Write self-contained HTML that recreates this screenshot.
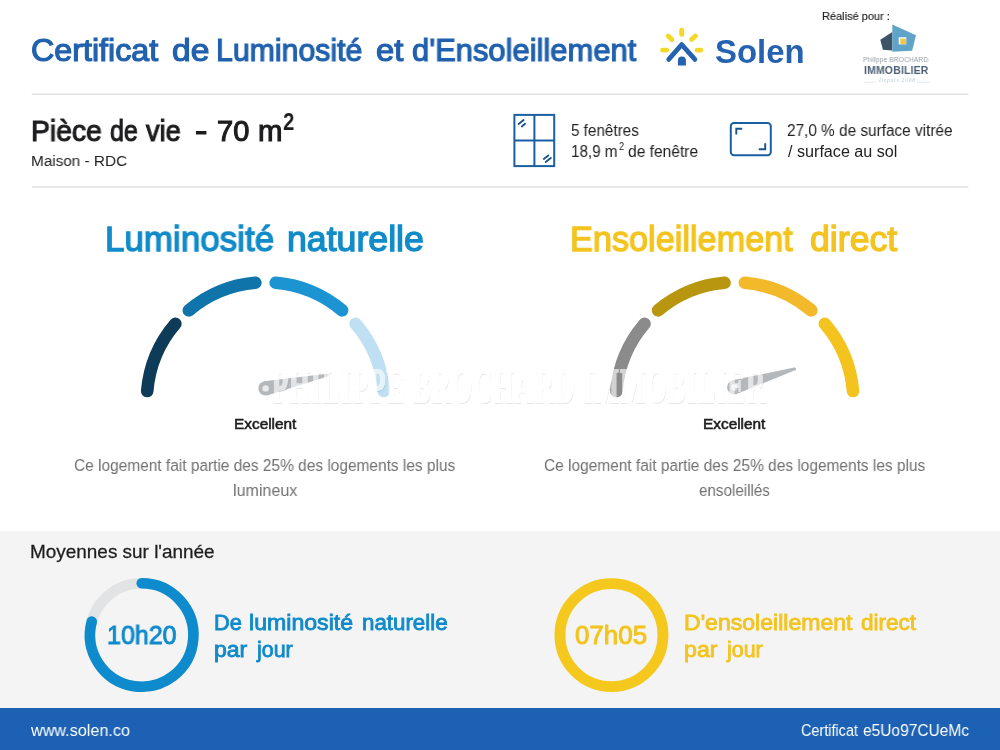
<!DOCTYPE html>
<html lang="fr"><head><meta charset="utf-8"><title>Certificat de Luminosité et d'Ensoleillement</title>
<style>
html,body{margin:0;padding:0;background:#fff;}
body{font-family:"Liberation Sans",sans-serif;}
#page{position:relative;width:1000px;height:750px;overflow:hidden;background:#fff;}
.t{position:absolute;white-space:nowrap;line-height:1;transform-origin:0 50%;will-change:transform;}
.abs{position:absolute;}
.hr{position:absolute;left:31.5px;width:937px;height:1.4px;background:#e3e3e3;}
svg{position:absolute;left:0;top:0;overflow:visible;}

</style></head>
<body>
<div id="page">
<div class="abs" style="left:0;top:531px;width:1000px;height:177px;background:#f4f4f4"></div>
<div class="abs" style="left:0;top:708px;width:1000px;height:42px;background:#1c61b4"></div>
<svg width="1000" height="750" viewBox="0 0 1000 750">
<rect x="31.8" y="93.5" width="936.6" height="1.5" fill="#e1e1e1"/>
<rect x="31.8" y="186.2" width="936.6" height="1.6" fill="#e2e2e2"/>
<!-- gauges -->
<path d="M147.22 391.07A118.7 118.7 0 0 1 175.37 323.75" fill="none" stroke="#0e3b58" stroke-width="12.6" stroke-linecap="round"/>
<path d="M188.88 310.34A118.7 118.7 0 0 1 255.36 282.73" fill="none" stroke="#0f74aa" stroke-width="12.6" stroke-linecap="round"/>
<path d="M275.64 282.73A118.7 118.7 0 0 1 342.12 310.34" fill="none" stroke="#1c94d2" stroke-width="12.6" stroke-linecap="round"/>
<path d="M355.63 323.75A118.7 118.7 0 0 1 383.78 391.07" fill="none" stroke="#bfe0f2" stroke-width="12.6" stroke-linecap="round"/>
<path d="M616.42 391.07A118.7 118.7 0 0 1 644.57 323.75" fill="none" stroke="#8b8b8b" stroke-width="12.6" stroke-linecap="round"/>
<path d="M658.08 310.34A118.7 118.7 0 0 1 724.56 282.73" fill="none" stroke="#b8960f" stroke-width="12.6" stroke-linecap="round"/>
<path d="M744.84 282.73A118.7 118.7 0 0 1 811.32 310.34" fill="none" stroke="#f2b92a" stroke-width="12.6" stroke-linecap="round"/>
<path d="M824.83 323.75A118.7 118.7 0 0 1 852.98 391.07" fill="none" stroke="#f3c41f" stroke-width="12.6" stroke-linecap="round"/>
<!-- needles -->
<polygon points="267.12,395.44 327.52,376.57 326.88,373.63 264.08,381.36" fill="#b5b8bb"/><circle cx="265.6" cy="388.4" r="7.2" fill="#b5b8bb"/><circle cx="327.2" cy="375.1" r="1.5" fill="#b5b8bb"/><circle cx="265.6" cy="388.4" r="3.2" fill="#e9eaeb"/>
<polygon points="736.39,394.09 795.04,370.34 794.16,367.46 732.21,380.31" fill="#b5b8bb"/><circle cx="734.3" cy="387.2" r="7.2" fill="#b5b8bb"/><circle cx="794.6" cy="368.9" r="1.5" fill="#b5b8bb"/><circle cx="734.3" cy="387.2" r="3.2" fill="#e9eaeb"/>
<!-- rings -->
<circle cx="141.7" cy="635.0" r="51.7" fill="none" stroke="#e2e3e5" stroke-width="10.6"/>
<path d="M141.70 583.30A51.7 51.7 0 1 1 91.76 621.62" fill="none" stroke="#0d8bcc" stroke-width="10.6" stroke-linecap="round"/>
<circle cx="611.45" cy="635.1" r="51.5" fill="none" stroke="#f4c81c" stroke-width="10.9"/>
<!-- Solen logo icon -->
<g fill="none" stroke-linecap="round" stroke-linejoin="round">
  <g stroke="#f5d726" stroke-width="4.9">
    <path d="M681.7 30.3V34.4"/>
    <path d="M668.2 36L671.8 39.6"/>
    <path d="M695.4 36L691.6 39.4"/>
    <path d="M662.6 50.1H666.7"/>
    <path d="M697.1 50.1H700.8"/>
  </g>
  <path d="M668.7 59.4L681.7 44.6L694.9 59.4" stroke="#2563b0" stroke-width="4.7"/>
</g>
<path d="M677.9 65.4V60.6A4 4 0 0 1 685.9 60.6V65.4Z" fill="#2563b0"/>
<!-- window icon -->
<g fill="none" stroke="#1b5fa3" stroke-width="2">
  <rect x="514.4" y="114.9" width="39.8" height="51.2"/>
  <path d="M534.4 114.9V166.1M514.4 140.6H554.2"/>
  <path d="M518.6 124L523.6 120M521.9 126.4L525 123.8M543.8 158.9L548.3 155.5M545.7 162L550.8 157.9" stroke="#1a538f" stroke-width="1.9" stroke-linecap="round"/>
</g>
<!-- surface icon -->
<g fill="none" stroke="#1b5fa3" stroke-width="2">
  <rect x="730.8" y="123" width="40" height="32.2" rx="3.2" ry="3.2"/>
  <path d="M736.3 134.6V128.7H742.2M765.2 143.2V149.3H758.8" stroke="#1a538f" stroke-width="1.9"/>
</g>
<!-- Brochard logo -->
<polygon points="892.3,32.1 880.3,39.7 882.9,49.7 892.3,50.4" fill="#3e5368"/>
<polygon points="892.3,24.4 916,35.3 912.1,50.7 892.3,51.8" fill="#5fa3c9"/>
<rect x="898.7" y="37.2" width="7.6" height="7.2" fill="#f4f7f5"/>
<rect x="900.3" y="38.7" width="5.8" height="5.4" fill="#f2c744"/>
<path d="M864 82.2H876M917 82.2H930" stroke="#d5e0e6" stroke-width="0.7"/>
</svg>
<span class="t" style="left:282.5px;top:110px;font-size:24px;font-weight:700;color:#1d1d1f;transform:scaleX(0.85)">2</span>
<span class="t" style="left:618.7px;top:141px;font-size:11.5px;font-weight:400;color:#222;transform:scaleX(0.8)">2</span>
<span class="t" id="bro1" style="left:863.2px;top:55.7px;font-size:7.2px;font-weight:400;color:#9aa0a8;transform:scaleX(0.95)">Philippe BROCHARD</span>
<span class="t" id="bro2" style="left:863.8px;top:64.6px;font-size:10.8px;font-weight:700;color:#4c6075;transform:scaleX(0.965);letter-spacing:0.2px">IMMOBILIER</span>
<span class="t" id="bro3" style="left:878.5px;top:78.2px;font-size:5.5px;font-style:italic;font-family:'Liberation Serif',serif;color:#b5cad5;letter-spacing:0.8px">Depuis 2008</span>
<div class="t" id="wm" style="left:272px;top:361.8px;font-family:'Liberation Serif',serif;font-size:48px;font-weight:700;color:#fff;-webkit-text-stroke:2.2px #fff;letter-spacing:1.9px;opacity:.62;text-shadow:1.5px 1.5px 0.5px rgba(0,0,0,.16);transform:scaleX(0.55)">PHILIPPE BROCHARD IMMOBILIER</div>

<span class="t" id="maison" style="left:31.07px;top:153.00px;font-size:15.5px;font-weight:400;color:#222;transform:scaleX(0.9864)">Maison - RDC</span>
<span class="t" id="fen1" style="left:570.89px;top:123.00px;font-size:16px;font-weight:400;color:#222;transform:scaleX(0.9520)">5 fenêtres</span>
<span class="t" id="fen2a" style="left:571.41px;top:144.00px;font-size:16px;font-weight:400;color:#222;transform:scaleX(0.9505)">18,9 m</span>
<span class="t" id="fen2b" style="left:628.47px;top:144.00px;font-size:16px;font-weight:400;color:#222;transform:scaleX(0.9724)">de fenêtre</span>
<span class="t" id="surf1" style="left:787.28px;top:123.00px;font-size:16px;font-weight:400;color:#222;transform:scaleX(0.9591)">27,0 % de surface vitrée</span>
<span class="t" id="surf2" style="left:788.00px;top:144.00px;font-size:16px;font-weight:400;color:#222;transform:scaleX(1.0084)">/ surface au sol</span>
<span class="t" id="exl" style="left:233.92px;top:416.00px;font-size:15.01px;font-weight:400;-webkit-text-stroke:0.57px #1d1d1f;color:#1d1d1f;transform:scaleX(1.0250)">Excellent</span>
<span class="t" id="exr" style="left:702.83px;top:416.00px;font-size:15.01px;font-weight:400;-webkit-text-stroke:0.57px #1d1d1f;color:#1d1d1f;transform:scaleX(1.0250)">Excellent</span>
<span class="t" id="pl1" style="left:74.31px;top:458.00px;font-size:16.7px;font-weight:400;color:#707070;transform:scaleX(0.9257)">Ce logement fait partie des 25% des logements les plus</span>
<span class="t" id="pl2" style="left:232.84px;top:483.00px;font-size:16.7px;font-weight:400;color:#707070;transform:scaleX(0.9618)">lumineux</span>
<span class="t" id="pr1" style="left:543.71px;top:458.00px;font-size:16.7px;font-weight:400;color:#707070;transform:scaleX(0.9257)">Ce logement fait partie des 25% des logements les plus</span>
<span class="t" id="pr2" style="left:699.12px;top:483.00px;font-size:16.7px;font-weight:400;color:#707070;transform:scaleX(0.9098)">ensoleillés</span>
<span class="t" id="moy" style="left:30.37px;top:543.00px;font-size:18.5px;font-weight:400;-webkit-text-stroke:0.26px #1d1d1f;color:#1d1d1f;transform:scaleX(1.0233)">Moyennes sur l'année</span>
<span class="t" id="h1" style="left:106.63px;top:623.00px;font-size:25.46px;font-weight:400;-webkit-text-stroke:0.97px #0f8aca;color:#0f8aca;transform:scaleX(0.9833)">10h20</span>
<span class="t" id="h2" style="left:575.49px;top:623.00px;font-size:25.46px;font-weight:400;-webkit-text-stroke:0.97px #f3c41f;color:#f3c41f;transform:scaleX(1.0179)">07h05</span>
<span class="t" id="www" style="left:31.20px;top:722.00px;font-size:16.5px;font-weight:400;color:#ffffff;transform:scaleX(0.9815)">www.solen.co</span>
<span class="t" id="real" style="left:822.38px;top:11.00px;font-size:11.5px;font-weight:400;-webkit-text-stroke:0.16px #1d1d1f;color:#1d1d1f;transform:scaleX(0.9560)">Réalisé pour :</span>
<span class="t" id="solen" style="left:715.00px;top:36.00px;font-size:32.9px;font-weight:700;color:#2563b0;transform:scaleX(0.9988)">Solen</span>
<span class="t" id="title0" style="left:31.28px;top:35.00px;font-size:31.73px;font-weight:400;-webkit-text-stroke:1.21px #2161ae;color:#2161ae;transform:scaleX(1.0161)">Certificat</span>
<span class="t" id="title1" style="left:172.10px;top:35.00px;font-size:31.73px;font-weight:400;-webkit-text-stroke:1.21px #2161ae;color:#2161ae;transform:scaleX(1.0607)">de</span>
<span class="t" id="title2" style="left:216.39px;top:35.00px;font-size:31.73px;font-weight:400;-webkit-text-stroke:1.21px #2161ae;color:#2161ae;transform:scaleX(0.9535)">Luminosité</span>
<span class="t" id="title3" style="left:376.03px;top:35.00px;font-size:31.73px;font-weight:400;-webkit-text-stroke:1.21px #2161ae;color:#2161ae;transform:scaleX(1.0308)">et</span>
<span class="t" id="title4" style="left:412.27px;top:35.00px;font-size:31.73px;font-weight:400;-webkit-text-stroke:1.21px #2161ae;color:#2161ae;transform:scaleX(0.9750)">d'Ensoleillement</span>
<span class="t" id="piece0" style="left:30.99px;top:117.00px;font-size:28.97px;font-weight:400;-webkit-text-stroke:1.10px #1d1d1f;color:#1d1d1f;transform:scaleX(0.9786)">Pièce</span>
<span class="t" id="piece1" style="left:109.75px;top:117.00px;font-size:28.97px;font-weight:400;-webkit-text-stroke:1.10px #1d1d1f;color:#1d1d1f;transform:scaleX(0.8650)">de</span>
<span class="t" id="piece2" style="left:146.47px;top:117.00px;font-size:28.97px;font-weight:400;-webkit-text-stroke:1.10px #1d1d1f;color:#1d1d1f;transform:scaleX(0.9361)">vie</span>
<span class="t" id="piece3" style="left:195.44px;top:117.00px;font-size:28.97px;font-weight:400;-webkit-text-stroke:1.10px #1d1d1f;color:#1d1d1f;transform:scaleX(1.2848)">-</span>
<span class="t" id="piece4" style="left:217.20px;top:117.00px;font-size:28.97px;font-weight:400;-webkit-text-stroke:1.10px #1d1d1f;color:#1d1d1f;transform:scaleX(1.0016)">70</span>
<span class="t" id="piece5" style="left:257.63px;top:117.00px;font-size:28.97px;font-weight:400;-webkit-text-stroke:1.10px #1d1d1f;color:#1d1d1f;transform:scaleX(1.0140)">m</span>
<span class="t" id="hl0" style="left:105.16px;top:221.00px;font-size:35.15px;font-weight:400;-webkit-text-stroke:1.34px #128bc9;color:#128bc9;transform:scaleX(0.9949)">Luminosité</span>
<span class="t" id="hl1" style="left:287.28px;top:221.00px;font-size:35.15px;font-weight:400;-webkit-text-stroke:1.34px #128bc9;color:#128bc9;transform:scaleX(1.0151)">naturelle</span>
<span class="t" id="hr0" style="left:570.31px;top:221.00px;font-size:35.15px;font-weight:400;-webkit-text-stroke:1.34px #f3c41f;color:#f3c41f;transform:scaleX(0.9746)">Ensoleillement</span>
<span class="t" id="hr1" style="left:809.74px;top:221.00px;font-size:35.15px;font-weight:400;-webkit-text-stroke:1.34px #f3c41f;color:#f3c41f;transform:scaleX(1.0157)">direct</span>
<span class="t" id="dl10" style="left:213.93px;top:613.00px;font-size:21.38px;font-weight:400;-webkit-text-stroke:0.81px #0f8aca;color:#0f8aca;transform:scaleX(1.0196)">De</span>
<span class="t" id="dl11" style="left:248.92px;top:613.00px;font-size:21.38px;font-weight:400;-webkit-text-stroke:0.81px #0f8aca;color:#0f8aca;transform:scaleX(1.0818)">luminosité</span>
<span class="t" id="dl12" style="left:361.96px;top:613.00px;font-size:21.38px;font-weight:400;-webkit-text-stroke:0.81px #0f8aca;color:#0f8aca;transform:scaleX(1.0435)">naturelle</span>
<span class="t" id="dl20" style="left:214.12px;top:640.00px;font-size:21.38px;font-weight:400;-webkit-text-stroke:0.81px #0f8aca;color:#0f8aca;transform:scaleX(1.0767)">par</span>
<span class="t" id="dl21" style="left:257.20px;top:640.00px;font-size:21.38px;font-weight:400;-webkit-text-stroke:0.81px #0f8aca;color:#0f8aca;transform:scaleX(1.0014)">jour</span>
<span class="t" id="dr10" style="left:683.65px;top:613.00px;font-size:21.38px;font-weight:400;-webkit-text-stroke:0.81px #f3c41f;color:#f3c41f;transform:scaleX(1.0789)">D'ensoleillement</span>
<span class="t" id="dr11" style="left:860.67px;top:613.00px;font-size:21.38px;font-weight:400;-webkit-text-stroke:0.81px #f3c41f;color:#f3c41f;transform:scaleX(1.0538)">direct</span>
<span class="t" id="cert0" style="left:801.15px;top:723.00px;font-size:16.7px;font-weight:400;color:#ffffff;transform:scaleX(0.8646)">Certificat</span>
<span class="t" id="cert1" style="left:863.00px;top:723.00px;font-size:16.7px;font-weight:400;color:#ffffff;transform:scaleX(0.9295)">e5Uo97CUeMc</span>
<span class="t" id="dr20" style="left:683.92px;top:640.00px;font-size:21.38px;font-weight:400;-webkit-text-stroke:0.81px #f3c41f;color:#f3c41f;transform:scaleX(1.0833)">par</span>
<span class="t" id="dr21" style="left:727.20px;top:640.00px;font-size:21.38px;font-weight:400;-webkit-text-stroke:0.81px #f3c41f;color:#f3c41f;transform:scaleX(1.0014)">jour</span>
</div>
</body></html>
